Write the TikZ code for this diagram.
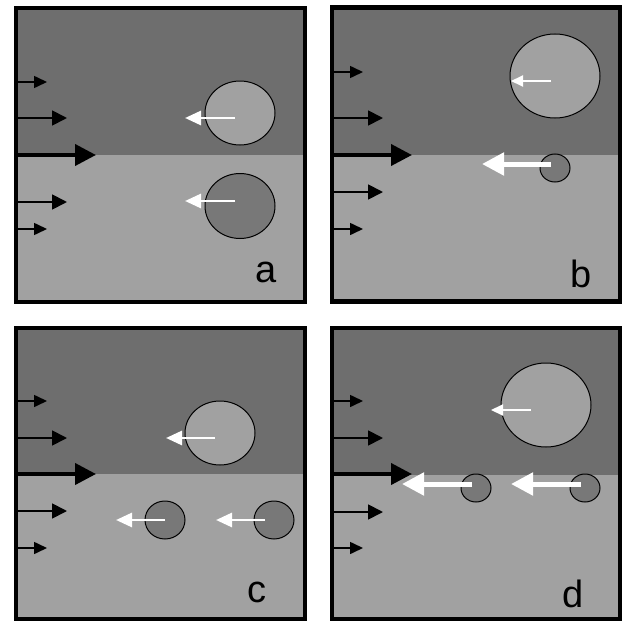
\documentclass[tikz,border=0pt]{standalone}
\usepackage{fontspec}
\setmainfont{Liberation Sans}
\usetikzlibrary{arrows.meta}
\definecolor{upperfluid}{HTML}{6E6E6E}
\definecolor{lowerfluid}{HTML}{A1A1A1}
\definecolor{dropgray}{HTML}{787878}

\tikzset{
  panel/.style={line width=4.5pt},
  flowshort/.style={line width=1.6pt,-{Triangle[length=13pt,width=12pt]}},
  flowmid/.style={line width=1.8pt,-{Triangle[length=15pt,width=15pt]}},
  flowbig/.style={line width=4pt,-{Triangle[length=21pt,width=21pt]}},
  driftthin/.style={white,line width=2pt,-{Triangle[length=12pt,width=11pt]}},
  drift/.style={white,line width=2.8pt,-{Triangle[length=16pt,width=14pt]}},
  driftfast/.style={white,line width=5pt,-{Triangle[length=22pt,width=22pt]}},
  lightdrop/.style={fill=lowerfluid,draw=black,line width=1pt},
  darkdrop/.style={fill=dropgray,draw=black,line width=1pt},
  tag/.style={font=\fontsize{38}{40}\selectfont,anchor=base,inner sep=0pt}
}

\begin{document}
\begin{tikzpicture}[x=1pt,y=-1pt]
  \useasboundingbox (0,0) rectangle (622,621);
  % the two layers of each panel
  \foreach \l/\t/\r/\b/\m in {16/8/305/302/155, 332/7.5/620/301.5/155,
                              16/328/305/619/474, 332/328/620/619/475}{
    \fill[upperfluid] (\l,\t) rectangle (\r,\m);
    \fill[lowerfluid] (\l,\m) rectangle (\r,\b);
  }
  % inflow arrows at the left wall
  \foreach \x/\e/\ya/\yb/\yc/\yd/\ye in {18/0/82/118/155/202/229, 334/316/72/118/155/192/229,
                                         18/0/401/438/474/511/548, 334/316/401/438/474/512/548}{
    \draw[flowshort] (\x,\ya) -- (47+\e,\ya);
    \draw[flowmid] (\x,\yb) -- (67+\e,\yb);
    \draw[flowbig] (\x,\yc) -- (96+\e,\yc);
    \draw[flowmid] (\x,\yd) -- (67+\e,\yd);
    \draw[flowshort] (\x,\ye) -- (47+\e,\ye);
  }
  % panel a
  \draw[lightdrop] (240,113) ellipse (35 and 32);
  \draw[darkdrop] (240,206) ellipse (35 and 32.5);
  \draw[drift] (235,118) -- (185,118);
  \draw[drift] (235,201) -- (185,201);
  \node[tag] (taga) at (266,282) {a};
  % panel b
  \draw[lightdrop] (555,76) ellipse (45 and 42);
  \draw[darkdrop] (555,168) ellipse (15 and 14);
  \draw[driftthin] (551,81) -- (511,81);
  \draw[driftfast] (551,164) -- (482,164);
  \node[tag] (tagb) at (581,287) {b};
  % panel c
  \draw[lightdrop] (220,433) ellipse (35 and 32);
  \draw[darkdrop] (165,520) ellipse (20 and 19);
  \draw[darkdrop] (274,520) ellipse (20 and 19);
  \draw[drift] (215,438) -- (166,438);
  \draw[drift] (165,520) -- (116,520);
  \draw[drift] (265,520) -- (216,520);
  \node[tag] (tagc) at (257,602) {c};
  % panel d
  \draw[lightdrop] (546,405) ellipse (45 and 42);
  \draw[darkdrop] (476,488) ellipse (15 and 14);
  \draw[darkdrop] (585,488) ellipse (15 and 14);
  \draw[driftthin] (531,410) -- (491,410);
  \draw[driftfast] (472,484) -- (402,484);
  \draw[driftfast] (581,484) -- (511,484);
  \node[tag] (tagd) at (573,607) {d};
  % frames
  \foreach \l/\t/\r/\b in {16/8/305/302, 332/7.5/620/301.5, 16/328/305/619, 332/328/620/619}
    \draw[panel] (\l,\t) rectangle (\r,\b);
\end{tikzpicture}
\end{document}
